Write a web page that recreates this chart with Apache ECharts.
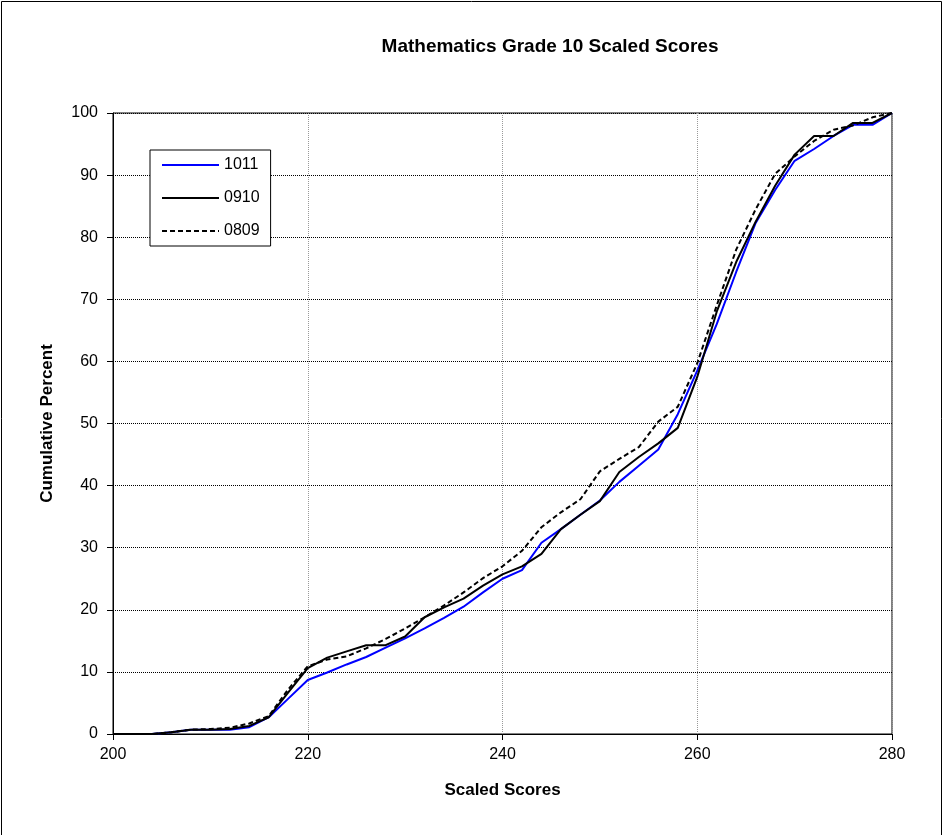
<!DOCTYPE html>
<html>
<head>
<meta charset="utf-8">
<script src="https://cdn.jsdelivr.net/npm/echarts@6/dist/echarts.min.js"></script>
<style>
html,body{margin:0;padding:0;background:#fff;}
#chart{width:945px;height:835px;}
</style>
</head>
<body>
<div id="chart"></div>
<script>
const scores = [200,202,204,206,208,210,212,214,216,218,220,222,224,226,228,230,232,234,236,238,240,242,244,246,248,250,252,254,256,258,260,262,264,266,268,270,272,274,276,278,280];
const s1011 = [0,0,0,0.3,0.7,0.7,0.7,1.1,2.7,5.7,8.7,9.9,11.2,12.4,13.9,15.4,17.0,18.7,20.5,22.8,25.0,26.4,30.8,33.0,35.3,37.6,40.6,43.2,45.8,51.5,58.5,66.0,74.4,82.3,87.6,92.3,94.2,96.3,98.1,98.1,100];
const s0910 = [0,0,0,0.3,0.7,0.7,0.8,1.3,2.7,6.7,10.6,12.3,13.3,14.3,14.3,15.7,18.8,20.4,21.8,23.9,25.7,27.0,29.0,33.0,35.3,37.5,42.2,44.6,46.8,49.3,57.5,68.0,76.0,82.5,88.3,93.3,96.3,96.3,98.4,98.4,100];
const s0809 = [0,0,0,0.3,0.7,0.8,1.0,1.7,2.9,7.2,10.9,12.0,12.5,13.8,15.3,17.0,18.8,20.7,22.8,25.1,27.0,29.5,33.3,35.7,37.8,42.3,44.3,46.2,50.3,52.7,59.7,69.0,78.0,84.5,90.2,93.0,95.5,97.3,98.0,99.3,100];
const xTicks = [200,220,240,260,280];
const yTicks = [0,10,20,30,40,50,60,70,80,90,100];

const pair = arr => scores.map((s,i)=>[s,arr[i]]);
const FONT = 'Liberation Sans, Arial, sans-serif';

const chart = echarts.init(document.getElementById('chart'), null, {renderer:'canvas'});
chart.setOption({
  animation:false,
  backgroundColor:'#fff',
  textStyle:{fontFamily:FONT},
  title:{
    text:'Mathematics Grade 10 Scaled Scores',
    left:545, top:32, textAlign:'center',
    textStyle:{fontFamily:FONT,fontSize:19,fontWeight:'bold',color:'#000'}
  },
  graphic:[{
    type:'rect', silent:true, z:-1,
    shape:{x:1.5,y:1.5,width:940,height:860},
    style:{fill:null,stroke:'#000',lineWidth:1}
  }],
  legend:{
    orient:'vertical', left:150, top:150,
    itemWidth:57, itemHeight:14, itemGap:17,
    padding:[7,11,7,11],
    backgroundColor:'#fff', borderColor:'#000', borderWidth:1, borderRadius:0,
    itemStyle:{opacity:0},
    textStyle:{fontFamily:FONT,fontSize:16,color:'#000'},
    data:['1011','0910','0809']
  },
  grid:{left:113, top:113, width:779, height:621, show:true, borderColor:'#000', borderWidth:1, backgroundColor:'transparent'},
  xAxis:{
    type:'value', min:200, max:280, interval:20,
    name:'Scaled Scores', nameLocation:'middle', nameGap:48,
    nameTextStyle:{fontFamily:FONT,fontSize:17,fontWeight:'bold',color:'#000'},
    axisLine:{show:true,lineStyle:{color:'#000',width:1}},
    axisTick:{show:true,inside:false,length:6,lineStyle:{color:'#000'}},
    axisLabel:{fontFamily:FONT,fontSize:16,color:'#000',margin:13,
      formatter:v=>xTicks.includes(v)?String(v):''},
    splitLine:{show:true,lineStyle:{color:'#999',type:[1,1],width:1}}
  },
  yAxis:{
    type:'value', min:0, max:100, interval:10,
    name:'Cumulative Percent', nameLocation:'middle', nameGap:57,
    nameTextStyle:{fontFamily:FONT,fontSize:17,fontWeight:'bold',color:'#000'},
    axisLine:{show:true,lineStyle:{color:'#000',width:1}},
    axisTick:{show:true,inside:false,length:6,lineStyle:{color:'#000'}},
    axisLabel:{fontFamily:FONT,fontSize:16,color:'#000',margin:15,
      formatter:v=>yTicks.includes(v)?String(v):''},
    splitLine:{show:true,lineStyle:{color:'#000',type:[1,1],width:1}}
  },
  series:[
    {name:'1011',type:'line',data:pair(s1011),symbol:'none',z:3,
      lineStyle:{color:'#0000ff',width:2},itemStyle:{color:'#0000ff'}},
    {name:'0910',type:'line',data:pair(s0910),symbol:'none',z:4,
      lineStyle:{color:'#000',width:2},itemStyle:{color:'#000'}},
    {name:'0809',type:'line',data:pair(s0809),symbol:'none',z:5,
      lineStyle:{color:'#000',width:2,type:[5,3]},itemStyle:{color:'#000'}}
  ]
});
</script>
</body>
</html>
